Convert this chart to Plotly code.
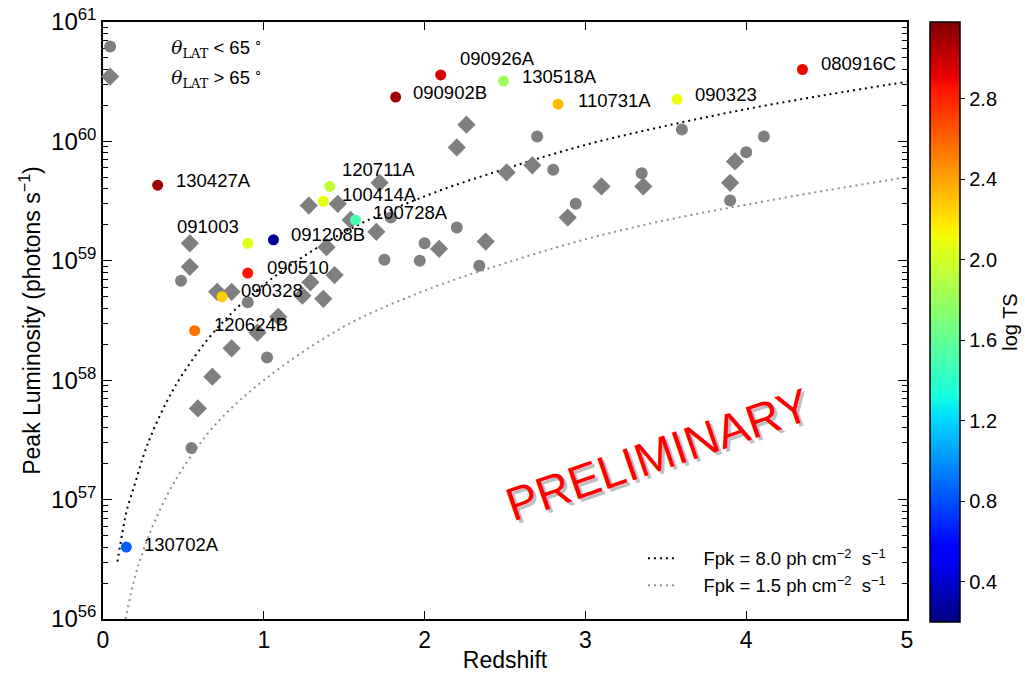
import numpy as np
import plotly.graph_objects as go

# ---------------- data ----------------
lab_names = ["080916C", "090926A", "090902B", "130518A", "110731A", "090323",
             "130427A", "120711A", "100414A", "100728A", "091003", "091208B",
             "090510", "090328", "120624B", "130702A"]
lab_z = [4.35, 2.10, 1.82, 2.49, 2.83, 3.57, 0.34, 1.41, 1.37, 1.57, 0.90, 1.06,
         0.90, 0.74, 0.57, 0.145]
lab_L = [4.0e60, 3.6e60, 2.35e60, 3.2e60, 2.05e60, 2.25e60, 4.3e59, 4.2e59,
         3.15e59, 2.2e59, 1.4e59, 1.5e59, 7.9e58, 5.0e58, 2.6e58, 4.0e56]
lab_logTS = [2.9, 2.95, 3.1, 1.8, 2.32, 2.1, 3.1, 1.93, 2.08, 1.5, 2.05, 0.26,
             2.85, 2.26, 2.56, 0.85]

circ_z = [0.485, 0.90, 1.02, 0.55, 1.75, 1.79, 2.20, 2.00, 1.97, 2.34, 2.70,
          2.80, 2.94, 3.35, 3.60, 4.11, 4.00, 3.90]
circ_L = [6.8e58, 4.5e58, 1.55e58, 2.7e57, 1.02e59, 2.3e59, 1.9e59, 1.4e59,
          1.0e59, 9.1e58, 1.1e60, 5.8e59, 3.0e59, 5.4e59, 1.26e60, 1.1e60,
          8.1e59, 3.2e59]

diam_z = [0.54, 0.54, 0.71, 0.80, 1.28, 1.46, 1.54, 1.72, 1.70, 1.39, 1.29,
          1.44, 1.24, 1.37, 1.09, 0.96, 0.80, 0.68, 0.59, 2.09, 2.26, 2.20,
          2.51, 2.67, 3.10, 3.36, 2.89, 2.38, 3.93, 3.90]
diam_L = [1.4e59, 8.9e58, 5.5e58, 5.5e58, 2.9e59, 3.0e59, 2.2e59, 4.5e59,
          1.75e59, 1.3e59, 6.6e58, 7.6e58, 5.1e58, 4.8e58, 3.4e58, 2.5e58,
          1.85e58, 1.07e58, 5.8e57, 1.26e59, 1.38e60, 8.9e59, 5.5e59, 6.3e59,
          4.2e59, 4.2e59, 2.3e59, 1.45e59, 6.8e59, 4.5e59]

# flux-limit curves
f8_z = [0.09, 0.12, 0.15, 0.20, 0.25, 0.30, 0.40, 0.50, 0.70, 1.0, 1.5, 2.0,
        2.5, 3.0, 3.5, 4.0, 4.5, 5.0]
f8_logL = [56.48, 56.72, 56.92, 57.14, 57.36, 57.54, 57.83, 58.06, 58.42,
           58.80, 59.24, 59.54, 59.77, 59.97, 60.13, 60.27, 60.39, 60.50]
f15_z = [0.14, 0.20, 0.25, 0.30, 0.40, 0.50, 0.70, 1.0, 1.5, 2.0, 2.5, 3.0,
         3.5, 4.0, 4.5, 5.0]
f15_logL = [56.0, 56.36, 56.57, 56.75, 57.04, 57.27, 57.63, 58.0, 58.45, 58.75,
            58.98, 59.18, 59.34, 59.47, 59.59, 59.70]

cb_ticks = [0.4, 0.8, 1.2, 1.6, 2.0, 2.4, 2.8]
y_exps = [56, 57, 58, 59, 60, 61]
x_ticks = [0, 1, 2, 3, 4, 5]

# label offsets (pixels): xshift, yshift, anchor
lab_off = {"080916C": (17, 6, "left"), "090926A": (17, 16, "left"),
           "090902B": (15, 5, "left"), "130518A": (17, 5, "left"),
           "110731A": (18, 4, "left"), "090323": (16, 5, "left"),
           "130427A": (16, 5, "left"), "120711A": (10, 17, "left"),
           "100414A": (17, 7, "left"), "100728A": (16, 7, "left"),
           "091003": (-7, 17, "right"), "091208B": (16, 5, "left"),
           "090510": (17, 6, "left"), "090328": (17, 6, "left"),
           "120624B": (17, 6, "left"), "130702A": (16, 3, "left")}

# ---------------- matplotlib-like jet colour scale ----------------
_r = [(0, 0), (0.35, 0), (0.66, 1), (0.89, 1), (1, 0.5)]
_g = [(0, 0), (0.125, 0), (0.375, 1), (0.64, 1), (0.91, 0), (1, 0)]
_b = [(0, 0.5), (0.11, 1), (0.34, 1), (0.65, 0), (1, 0)]


def _ch(seg, v):
    xs = [s[0] for s in seg]
    ys = [s[1] for s in seg]
    return float(np.interp(v, xs, ys))


stops = [0, 0.11, 0.125, 0.34, 0.35, 0.375, 0.5, 0.64, 0.65, 0.66, 0.89, 0.91, 1.0]
jet = [[s, "rgb(%d,%d,%d)" % (round(255 * _ch(_r, s)), round(255 * _ch(_g, s)),
                              round(255 * _ch(_b, s)))] for s in stops]

FONT = "Liberation Sans, Arial, Helvetica, sans-serif"
GRAY = "#7f7f7f"
NB = "\u00a0" * 8
NB2 = "\u00a0" * 4

fig = go.Figure()

fig.add_trace(go.Scatter(
    x=f8_z, y=[10 ** v for v in f8_logL], mode="lines", line_shape="spline",
    line=dict(color="black", width=2, dash="2px,4px"),
    name=NB2 + "Fpk = 8.0 ph cm<sup>−2</sup>  s<sup>−1</sup>", legend="legend2"))
fig.add_trace(go.Scatter(
    x=f15_z, y=[10 ** v for v in f15_logL], mode="lines", line_shape="spline",
    line=dict(color="#909090", width=2, dash="2px,4px"),
    name=NB2 + "Fpk = 1.5 ph cm<sup>−2</sup>  s<sup>−1</sup>", legend="legend2"))

theta = "<span style='font-family:DejaVu Serif, serif'><i>θ</i><sub>LAT</sub></span>"
fig.add_trace(go.Scatter(
    x=circ_z, y=circ_L, mode="markers", legendgroup="a",
    marker=dict(symbol="circle", size=12, color=GRAY),
    name=NB + theta + " < 65<sup> ∘</sup>", legend="legend"))
fig.add_trace(go.Scatter(
    x=diam_z, y=diam_L, mode="markers", legendgroup="b",
    marker=dict(symbol="diamond", size=14, color=GRAY),
    name=NB + theta + " > 65<sup> ∘</sup>", legend="legend"))

fig.add_trace(go.Scatter(
    x=lab_z, y=lab_L, mode="markers", showlegend=False,
    marker=dict(symbol="circle", size=11, color=lab_logTS, colorscale=jet,
                cmin=0.2, cmax=3.18, showscale=True,
                colorbar=dict(
                    x=1.0286, xanchor="left", xref="paper", xpad=0, ypad=0,
                    y=1.0, yanchor="top", len=1.005, lenmode="fraction",
                    thickness=30, thicknessmode="pixels",
                    outlinecolor="black", outlinewidth=1.5,
                    tickvals=cb_ticks, ticktext=["%.1f" % t for t in cb_ticks],
                    ticks="outside", ticklen=5, tickcolor="black",
                    tickfont=dict(family=FONT, size=20, color="black"),
                    title=dict(text="log TS", side="right",
                               font=dict(family=FONT, size=20, color="black")),
                ))))

annotations = []
for n, z, L in zip(lab_names, lab_z, lab_L):
    xs, ys, anc = lab_off[n]
    annotations.append(dict(x=z, y=np.log10(L), xref="x", yref="y", text=n,
                            showarrow=False, xanchor=anc, yanchor="middle",
                            xshift=xs, yshift=ys,
                            font=dict(family=FONT, size=18.5, color="black")))

# PRELIMINARY stamp with a soft shadow
annotations.append(dict(x=0.69, y=0.275, xref="paper", yref="paper",
                        text="PRELIMINARY", showarrow=False, textangle=-19,
                        xanchor="center", yanchor="middle",
                        xshift=3, yshift=-3,
                        font=dict(family=FONT, size=47, color="rgba(0,0,0,0.25)")))
annotations.append(dict(x=0.69, y=0.275, xref="paper", yref="paper",
                        text="PRELIMINARY", showarrow=False, textangle=-19,
                        xanchor="center", yanchor="middle",
                        font=dict(family=FONT, size=47, color="#ff0000")))

minor_vals = [m * 10.0 ** e for e in y_exps[:-1] for m in range(2, 10)]

fig.update_layout(
    width=1025, height=673,
    margin=dict(l=103, r=118, t=22, b=54, autoexpand=False),
    paper_bgcolor="white", plot_bgcolor="white",
    font=dict(family=FONT, color="black"),
    annotations=annotations,
    legend=dict(x=-0.016, y=0.99, xanchor="left", yanchor="top",
                bgcolor="rgba(0,0,0,0)", borderwidth=0, itemwidth=30,
                font=dict(family=FONT, size=18.5, color="black"),
                tracegroupgap=3),
    legend2=dict(x=0.98, y=0.024, xanchor="right", yanchor="bottom",
                 bgcolor="rgba(0,0,0,0)", borderwidth=0, itemwidth=30,
                 font=dict(family=FONT, size=18.5, color="black")),
    xaxis=dict(range=[0, 5], tickvals=x_ticks, ticktext=[str(t) for t in x_ticks],
               ticks="inside", ticklen=8, tickwidth=1.2, tickcolor="black",
               showline=True, linecolor="black", linewidth=1.5, mirror="ticks",
               showgrid=False, zeroline=False,
               tickfont=dict(family=FONT, size=23, color="black"),
               title=dict(text="Redshift", standoff=6,
                          font=dict(family=FONT, size=23, color="black"))),
    yaxis=dict(type="log", range=[56, 61],
               tickvals=[10.0 ** e for e in y_exps],
               ticktext=["10<sup>%d</sup>" % e for e in y_exps],
               ticks="inside", ticklen=9, tickwidth=1.2, tickcolor="black",
               minor=dict(tickvals=minor_vals, ticks="inside", ticklen=5,
                          tickcolor="black", tickwidth=1),
               showline=True, linecolor="black", linewidth=1.5, mirror="ticks",
               showgrid=False, zeroline=False,
               tickfont=dict(family=FONT, size=24, color="black"),
               title=dict(text="Peak Luminosity (photons s<sup>−1</sup>)", standoff=4,
                          font=dict(family=FONT, size=23, color="black"))),
)

fig.write_html("out.html")
